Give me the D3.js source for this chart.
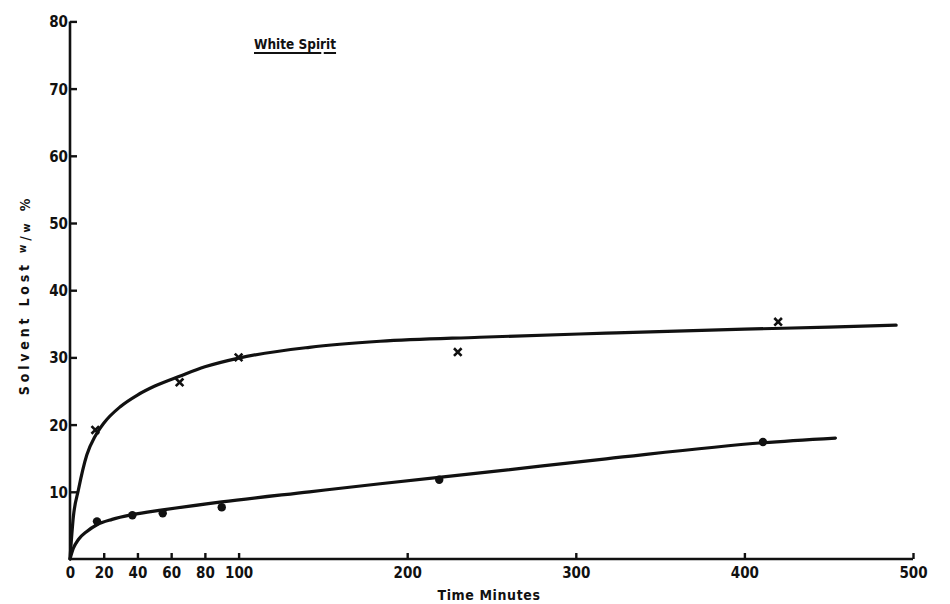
<!DOCTYPE html>
<html>
<head>
<meta charset="utf-8">
<script src="https://cdn.jsdelivr.net/npm/d3@7"></script>
<style>
  html, body { margin: 0; padding: 0; background: #fff; }
  svg { display: block; }
  text { font-family: "DejaVu Sans Condensed", "DejaVu Sans", sans-serif; font-weight: bold; fill: #111; }
</style>
</head>
<body>
<svg id="chart" width="950" height="604"></svg>
<script>
// ---- data ----
const xTickValues = [0, 20, 40, 60, 80, 100, 200, 300, 400, 500];
const yTickValues = [10, 20, 30, 40, 50, 60, 70, 80];

// measured points, crosses (x) series
const crossTime = [15, 65, 100, 230, 420];
const crossLoss = [19.2, 26.3, 30.0, 30.8, 35.3];

// measured points, dots series
const dotTime = [16, 37, 55, 90, 219, 411];
const dotLoss = [5.6, 6.5, 6.8, 7.7, 11.8, 17.4];

// hand-drawn fitted curves
const upperCurveTime = [0, 2, 5, 10, 15, 20, 30, 40, 50, 65, 80, 100, 142, 184, 243, 318, 400, 450, 490];
const upperCurveLoss = [0, 6.3, 10.3, 15.5, 18.3, 20.2, 22.7, 24.4, 25.7, 27.2, 28.6, 29.9, 31.5, 32.4, 33.0, 33.6, 34.2, 34.5, 34.8];

const lowerCurveTime = [0, 2, 5, 10, 16, 25, 37, 55, 90, 142, 184, 250, 318, 411, 454];
const lowerCurveLoss = [0, 1.6, 2.9, 4.1, 5.1, 5.9, 6.6, 7.3, 8.5, 10.0, 11.2, 13.0, 14.9, 17.3, 18.0];

const titleText = "White Spirit";
const xLabelText = "Time Minutes";

// ---- drawing ----
const svg = d3.select("#chart");
const x = d3.scaleLinear().domain([0, 500]).range([70, 913]);
const y = d3.scaleLinear().domain([0, 80]).range([559, 21.4]);

const ink = "#111";

// x axis
const gx = svg.append("g").attr("transform", `translate(0,${y(0)})`)
  .call(d3.axisBottom(x).tickValues(xTickValues).tickSize(-6).tickPadding(8).tickFormat(d3.format("d")));
// y axis
const gy = svg.append("g").attr("transform", `translate(${x(0)},0)`)
  .call(d3.axisLeft(y).tickValues(yTickValues).tickSize(-7).tickPadding(2).tickFormat(d3.format("d")));

[gx, gy].forEach(g => {
  g.select(".domain").attr("stroke", ink).attr("stroke-width", 2.6);
  g.selectAll(".tick line").attr("stroke", ink).attr("stroke-width", 2.4);
  g.selectAll(".tick text").attr("fill", ink).style("font-size", "15px")
    .style("font-family", '"DejaVu Sans Condensed", "DejaVu Sans", sans-serif').style("font-weight", "bold");
});
gx.select(".domain").attr("d", `M${x(0)},0H${x(500)}`);
gy.select(".domain").attr("d", `M0,${y(0)}V${y(80)}`);
gy.selectAll(".tick text").attr("dy", "0.36em");

// curves
const line = d3.line().x(d => x(d[0])).y(d => y(d[1])).curve(d3.curveMonotoneX);
svg.append("path").datum(d3.zip(upperCurveTime, upperCurveLoss))
  .attr("d", line).attr("fill", "none").attr("stroke", ink).attr("stroke-width", 3.2).attr("stroke-linecap", "round");
svg.append("path").datum(d3.zip(lowerCurveTime, lowerCurveLoss))
  .attr("d", line).attr("fill", "none").attr("stroke", ink).attr("stroke-width", 3.2).attr("stroke-linecap", "round");

// cross markers
const cs = 3.8;
const crosses = svg.append("g").selectAll("g").data(d3.zip(crossTime, crossLoss)).join("g")
  .attr("transform", d => `translate(${x(d[0])},${y(d[1])})`);
crosses.append("path").attr("d", `M${-cs},${-cs}L${cs},${cs}M${-cs},${cs}L${cs},${-cs}`)
  .attr("stroke", ink).attr("stroke-width", 2.6).attr("fill", "none");

// dot markers
svg.append("g").selectAll("circle").data(d3.zip(dotTime, dotLoss)).join("circle")
  .attr("cx", d => x(d[0])).attr("cy", d => y(d[1])).attr("r", 4.2).attr("fill", ink);

// title with broken underline
const title = svg.append("text").attr("x", 254).attr("y", 49).style("font-size", "13.5px").text(titleText);
const tw = title.node().getComputedTextLength();
svg.append("line").attr("x1", 254).attr("x2", 254 + tw * 0.82).attr("y1", 53).attr("y2", 53)
  .attr("stroke", ink).attr("stroke-width", 2);
svg.append("line").attr("x1", 254 + tw * 0.85).attr("x2", 254 + tw).attr("y1", 53).attr("y2", 53)
  .attr("stroke", ink).attr("stroke-width", 2);

// x label
svg.append("text").attr("x", 489).attr("y", 600).attr("text-anchor", "middle")
  .style("font-size", "14px").style("letter-spacing", "0.6px").text(xLabelText);

// y label
const yl = svg.append("text").attr("transform", "translate(29,295) rotate(-90)")
  .attr("text-anchor", "middle").style("font-size", "14px").style("letter-spacing", "3.8px");
yl.append("tspan").text("Solvent Lost ");
yl.append("tspan").attr("dy", "-0.35em").style("font-size", "10px").text("w");
yl.append("tspan").attr("dy", "0.35em").style("font-size", "14px").text("/");
yl.append("tspan").style("font-size", "11px").text("w");
yl.append("tspan").style("font-size", "14px").text(" %");
</script>
</body>
</html>
